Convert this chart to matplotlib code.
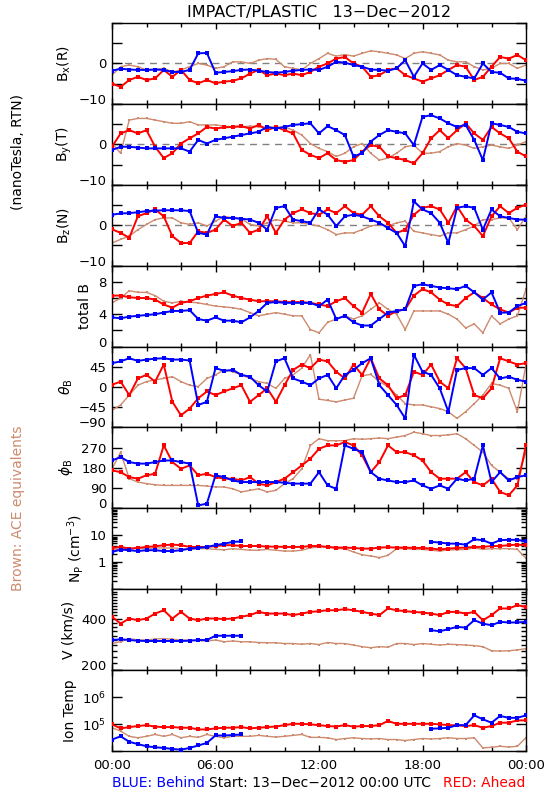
import numpy as np
import matplotlib
matplotlib.use("Agg")
import matplotlib.pyplot as plt
from matplotlib.ticker import FixedLocator, NullLocator, NullFormatter

nan = np.nan

# --- time grid: half-hourly samples over 13-Dec-2012 (hours) ---
hours = np.arange(49) * 0.5

# --- B components (nT, RTN) ---
bx_blue = [-1.8, -1.3, -1.5, -1.6, -1.6, -1.5, -1.6, -2.1, -2.1, -1.6, 2.5, 2.6, -2.3, -2.1, -1.9, -1.6, -1.5,
           -1.8, -2.1, -2.3, -2.1, -1.8, -1.6, -1.5, -1.6, -0.8, 0.4, 0.2, -0.4, -0.8, -1.5, -1.6, -1.8, -1.2,
           0.8, -3.3, 0.0, -1.6, -0.4, -1.6, -2.9, -3.3, -3.7, 0.0, -2.1, -2.3, -3.7, -3.8, -4.3]
bx_red = [-5.0, -5.8, -4.1, -3.3, -4.1, -3.7, -1.6, -3.3, -1.6, -4.1, -4.9, -4.1, -4.9, -4.5, -4.3, -3.7, -2.5,
          -1.6, -2.9, -2.5, -2.9, -2.5, -2.9, -2.1, -0.8, 0.0, 1.2, 1.6, 0.0, -0.8, -3.3, -2.9, -1.6, -1.2,
          -2.9, -3.7, -4.5, -3.7, -2.9, -1.6, -0.4, -0.8, -4.1, -3.3, -0.8, 1.6, 1.2, 2.1, 0.8]
bx_brown = [-2.9, -0.8, -0.4, -0.8, -1.6, -1.5, -1.2, -2.1, -1.6, -0.8, 0.0, -0.4, -1.2, -0.8, 0.4, 0.4, 0.0,
            0.8, 1.2, 1.0, -0.8, -1.2, -1.6, 0.0, 1.2, 2.5, 1.8, 2.2, 1.8, 2.5, 3.1, 2.9, 2.5, 2.1, 1.2, 2.5,
            2.9, 2.5, 2.1, 0.8, 0.4, 0.4, -0.8, -1.6, -1.2, 0.0, 0.0, -1.2, -0.4]

by_blue = [-1.4, -0.6, -0.6, -0.8, -1.0, -1.0, -1.0, -1.0, -1.0, -1.8, 1.1, 0.2, 1.1, 1.5, 1.9, 2.3, 2.7, 3.1,
           4.3, 3.9, 4.3, 4.8, 5.0, 5.2, 2.7, 4.5, 3.5, 2.3, -3.0, -2.2, 0.7, 2.3, 3.5, 3.1, 2.7, -0.2, 6.8, 7.2,
           6.4, 5.2, 4.3, 4.8, 1.1, -3.9, 5.2, 4.8, 4.3, 3.1, 2.7]
by_red = [-0.6, 2.7, 3.5, 2.7, 3.5, -0.6, -3.4, -2.2, 0.2, 1.5, 2.7, 4.3, 3.9, 4.2, 4.3, 4.5, 3.9, 4.8, 3.5,
          4.3, 3.5, 2.7, -1.4, -2.6, -3.4, -2.2, -3.9, -4.3, -3.9, -1.8, -0.2, -0.6, -3.0, -3.4, -3.9, -4.7,
          -2.2, 1.5, 3.5, 1.5, 3.5, 5.2, 2.7, 1.1, 4.3, 2.7, 1.5, -1.8, -3.0]
by_brown = [0.2, -2.2, 6.0, 6.4, 6.4, 6.0, 5.6, 5.2, 5.2, 5.6, 4.8, 4.8, 4.8, 4.5, 4.3, 4.3, 4.5, 4.3, 4.3, 4.2,
            4.3, 3.5, 2.3, 0.2, -1.0, -1.8, -3.0, -2.2, -0.6, 0.2, -2.2, -3.9, -3.4, -2.2, -0.6, -0.2, -2.2,
            -2.2, -1.8, -0.6, 0.2, -0.2, -1.0, -0.6, -0.2, -0.6, -1.0, -0.2, 0.7]

bz_blue = [2.6, 2.9, 3.0, 3.2, 3.5, 3.6, 3.7, 3.7, 3.7, 3.5, -1.9, -2.3, 2.2, 1.8, 1.8, 1.6, 1.4, 0.6, -1.1, 4.3,
           4.7, 1.4, 1.0, 0.6, 3.9, 2.6, -0.2, 2.2, 2.6, 2.2, 1.4, 0.6, -0.7, -1.9, -5.2, 5.9, 3.9, 3.0, 0.6,
           -4.4, 4.3, 4.7, 4.3, -1.1, 3.9, 2.2, 1.8, 1.4, 1.4]
bz_red = [-1.0, -1.9, -3.1, 2.2, 3.0, 3.9, 2.2, -2.7, -4.4, -4.4, -1.5, -1.9, -1.1, 1.4, -0.2, 0.6, -1.9, -1.1,
          2.2, -1.9, 1.4, 3.0, 3.9, 3.0, 2.6, 3.9, 3.0, 4.7, 3.0, 2.6, 4.7, 2.2, 0.6, -1.9, -1.1, 2.6, 4.3, 4.7,
          3.9, 0.6, 4.7, 1.4, -0.2, -2.7, 2.2, 4.7, 3.0, 4.3, 5.1]
bz_brown = [-4.4, -3.5, -2.7, -1.1, 0.2, 1.4, 1.8, 1.8, 0.6, 0.2, 0.6, -0.2, 1.0, 2.2, 1.8, 1.6, 0.2, -0.2, 0.6,
            1.4, 1.0, 0.6, 0.6, 0.2, -0.2, -1.1, -2.3, -1.9, -1.9, -1.1, -0.2, 0.2, -0.2, 0.6, 1.0, -1.5, -1.9,
            -2.3, -2.7, -1.9, -1.9, -1.1, -0.2, 1.4, 1.4, 1.8, 1.8, -1.1, 2.2]

btot_blue = [3.6, 3.5, 3.7, 3.8, 3.9, 4.0, 4.2, 4.4, 4.4, 4.5, 3.4, 3.2, 3.6, 3.2, 3.2, 3.0, 3.6, 4.4, 5.4, 5.5,
             5.4, 5.4, 5.4, 5.4, 5.0, 5.8, 3.4, 3.8, 3.0, 2.6, 2.6, 3.4, 4.2, 4.4, 4.6, 7.5, 7.7, 7.5, 7.3, 7.2,
             7.1, 7.5, 6.7, 5.8, 6.7, 4.2, 4.2, 5.0, 5.4]
btot_red = [6.3, 6.3, 6.1, 6.0, 6.0, 5.8, 5.2, 4.8, 5.4, 5.6, 6.0, 6.3, 6.5, 6.7, 6.3, 6.0, 5.8, 5.6, 5.6, 5.6,
            5.5, 5.5, 5.5, 5.4, 5.2, 5.0, 5.6, 6.0, 5.0, 4.2, 6.5, 4.6, 3.8, 4.4, 4.6, 6.3, 7.1, 6.7, 5.8, 5.2,
            5.0, 6.0, 6.7, 6.0, 5.2, 4.6, 4.2, 4.8, 4.8]
btot_brown = [5.4, 6.0, 6.9, 6.7, 6.7, 6.3, 5.6, 5.4, 5.6, 5.5, 5.4, 5.2, 5.0, 4.9, 4.8, 4.6, 4.2, 3.8, 4.0, 4.2,
              4.0, 3.8, 3.8, 2.1, 1.7, 3.0, 3.4, 3.8, 3.4, 3.8, 4.6, 5.4, 4.6, 4.0, 2.1, 4.4, 4.4, 4.4, 4.4, 4.0,
              3.4, 2.3, 2.8, 1.7, 3.8, 2.8, 3.4, 3.8, 7.1]

# --- field angles (deg) ---
theta_blue = [53, 57, 64, 58, 61, 63, 64, 61, 61, 59, -40, -33, 42, 36, 38, 27, 23, 4, -10, 57, 64, 19, 12, 4,
              19, 27, -3, 27, 38, 53, 64, 4, -18, -40, -70, 72, 34, 27, -3, -55, 38, 42, 42, 27, 42, 19, 23, 16, 12]
theta_red = [5, 12, -18, 19, 27, 12, 50, -33, -63, -48, -25, -10, -18, -10, -3, 4, -33, -18, -3, -33, 4, 38, 50,
             42, 61, 57, 34, 19, 50, 27, 64, 19, 4, -25, -18, 34, 27, 50, 12, -3, 64, 42, -18, -25, -3, 64, 57, 50, 53]
theta_brown = [-52, -40, -18, 4, 12, 16, 19, 23, 12, 4, 1, 19, 27, 38, 34, 27, 19, 12, 8, -3, 19, 27, 42, 72,
               -27, -30, -33, -29, -25, 25, 28, 12, 1, -18, -37, -40, -40, -44, -48, -55, -70, -55, -37, -18, 8,
               4, -3, -55, 50]

phi_blue = [213, 228, 206, 199, 199, 206, 213, 213, 206, 199, 13, 21, 147, 139, 124, 117, 117, 117, 117, 117,
            114, 110, 110, 110, 161, 102, 87, 280, 265, 250, 161, 132, 124, 117, 117, 124, 102, 87, 102, 87, 132,
            124, 132, 280, 117, 161, 124, 139, 147]
phi_red = [169, 161, 139, 132, 147, 154, 280, 206, 176, 191, 147, 154, 139, 132, 132, 124, 139, 110, 102, 117,
           132, 161, 191, 221, 265, 280, 280, 295, 280, 236, 161, 206, 280, 250, 250, 236, 213, 161, 132, 132,
           132, 161, 117, 102, 132, 73, 58, 102, 280]
phi_brown = [176, 250, 132, 117, 110, 105, 102, 102, 102, 102, 102, 99, 95, 95, 87, 73, 80, 87, 73, 80, 110, 132,
             176, 280, 310, 301, 301, 301, 310, 307, 310, 313, 310, 317, 324, 339, 332, 324, 324, 327, 332, 310,
             280, 250, 191, 161, 132, 132, 250]

# --- plasma ---
gap = [nan] * 21
np_blue = [2.4, 2.95, 2.8, 2.6, 2.8, 2.8, 2.6, 2.6, 2.8, 3.2, 3.4, 3.7, 4.3, 4.9, 5.7, 5.9] + gap + \
          [5.7, 5.4, 4.9, 4.9, 4.5, 7.1, 6.6, 4.9, 6.6, 6.8, 6.8, 5.9]
np_red = [3.4, 3.7, 3.2, 3.4, 3.7, 3.9, 4.3, 4.5, 4.3, 3.7, 3.7, 3.7, 4.0, 4.3, 4.3, 4.0, 4.0, 4.0, 3.8, 3.8,
          3.7, 3.7, 3.7, 4.0, 4.0, 3.7, 3.5, 3.5, 3.4, 3.2, 3.2, 3.5, 3.6, 3.5, 3.5, 3.4, 3.4, 3.2, 3.0, 3.2,
          3.4, 3.5, 3.7, 3.7, 4.0, 4.0, 4.3, 4.5, 4.3]
np_brown = [2.8, 3.2, 3.2, 3.4, 3.2, 3.4, 3.4, 3.4, 3.2, 3.0, 3.2, 3.2, 3.0, 2.9, 3.2, 3.0, 2.8, 2.8, 3.0, 2.8,
            2.6, 2.6, 2.8, 3.4, 3.7, 3.7, 3.2, 3.2, 2.4, 1.9, 1.7, 1.5, 1.8, 3.2, 3.2, 3.0, 3.0, 2.8, 2.6, 2.9,
            2.9, 3.0, 3.4, 3.0, 3.2, 3.2, 3.2, 3.0, 1.4]

v_blue = [301, 304, 301, 298, 297, 297, 297, 297, 297, 298, 301, 301, 319, 319, 319, 319] + gap + \
         [344, 339, 349, 360, 356, 394, 376, 368, 385, 382, 382, 385]
v_red = [413, 376, 403, 394, 403, 431, 451, 403, 441, 403, 394, 403, 403, 400, 403, 413, 422, 441, 431, 431,
         431, 422, 431, 441, 445, 451, 451, 458, 451, 441, 431, 422, 462, 451, 445, 441, 437, 431, 422, 441,
         441, 431, 441, 394, 422, 462, 462, 483, 472]
v_brown = [287, 294, 307, 301, 301, 305, 307, 304, 301, 301, 298, 297, 301, 294, 297, 294, 294, 291, 290, 290,
           287, 287, 284, 287, 283, 291, 287, 287, 281, 275, 271, 275, 273, 287, 287, 283, 287, 284, 281, 284,
           283, 281, 279, 275, 260, 259, 260, 263, 268]

t_blue = [2.66e4, 3.5e4, 2.2e4, 1.8e4, 1.5e4, 1.37e4, 1.3e4, 1.19e4, 1.12e4, 1.3e4, 1.6e4, 2.0e4, 3.76e4,
          3.76e4, 3.9e4, 4.1e4] + gap + \
         [6.7e4, 6.9e4, 7.3e4, 9.1e4, 9.1e4, 2.1e5, 1.5e5, 1.12e5, 2.0e5, 1.7e5, 1.7e5, 2.1e5]
t_red = [9.7e4, 6.9e4, 7.7e4, 8.4e4, 9.1e4, 8.0e4, 7.7e4, 7.7e4, 7.3e4, 7.3e4, 6.3e4, 6.3e4, 6.9e4, 7.3e4,
         7.3e4, 7.7e4, 6.9e4, 7.3e4, 7.7e4, 8.1e4, 9.1e4, 1.02e5, 1.02e5, 9.7e4, 9.1e4, 8.4e4, 8.1e4, 9.1e4,
         8.0e4, 8.4e4, 8.4e4, 9.1e4, 1.3e5, 1.02e5, 1.02e5, 1.02e5, 1.02e5, 1.02e5, 9.7e4, 9.1e4, 9.0e4,
         8.4e4, 9.1e4, 7.3e4, 8.4e4, 1.12e5, 1.12e5, 1.37e5, 1.37e5]
t_brown = [7.3e4, 5.5e4, 3.5e4, 3.1e4, 3.5e4, 4.1e4, 3.5e4, 4.1e4, 3.1e4, 3.5e4, 3.2e4, 4.1e4, 3.5e4, 3.1e4,
           3.5e4, 3.5e4, 3.5e4, 3.8e4, 3.5e4, 3.3e4, 3.5e4, 3.8e4, 4.1e4, 3.2e4, 3.2e4, 3.1e4, 2.66e4, 2.9e4,
           3.1e4, 2.9e4, 2.8e4, 2.9e4, 2.66e4, 2.66e4, 2.45e4, 2.66e4, 2.9e4, 2.8e4, 2.9e4, 3.1e4, 2.9e4,
           2.9e4, 3.1e4, 1.3e4, 1.37e4, 1.5e4, 1.4e4, 1.5e4, 3.1e4]

xtick_labels = ["00:00", "06:00", "12:00", "18:00", "00:00"]

RED = "#FF0000"
BLUE = "#0000FF"
BROWN = "#CD8A6E"

# (label, label x centre in px, brown, red, blue, ylim, log, yticks, ytick labels, zero line)
panels = [
    (r"B$_\mathregular{x}$(R)", 64, bx_brown, bx_red, bx_blue, (-10, 10), False,
     [-10, -5, 0, 5, 10], ["\u221210", "", "0", "", ""], True),
    (r"B$_\mathregular{y}$(T)", 64, by_brown, by_red, by_blue, (-10, 10), False,
     [-10, -5, 0, 5, 10], ["\u221210", "", "0", "", ""], True),
    (r"B$_\mathregular{z}$(N)", 64, bz_brown, bz_red, bz_blue, (-10, 10), False,
     [-10, -5, 0, 5, 10], ["\u221210", "", "0", "", ""], True),
    ("total B", 85, btot_brown, btot_red, btot_blue, (0, 10), False,
     [0, 2, 4, 6, 8, 10], ["0", "", "4", "", "8", ""], False),
    (r"$\theta_\mathregular{B}$", 66, theta_brown, theta_red, theta_blue, (-90, 90), False,
     [-90, -45, 0, 45, 90], ["\u221290", "\u221245", "0", "45", ""], False),
    (r"$\phi_\mathregular{B}$", 66, phi_brown, phi_red, phi_blue, (0, 360), False,
     [0, 90, 180, 270, 360], ["0", "90", "180", "270", ""], False),
    (r"N$_\mathregular{P}$ (cm$^{-3}$)", 75, np_brown, np_red, np_blue, (0.1, 100), True,
     [0.1, 1, 10, 100], ["", "1", "10", ""], False),
    ("V (km/s)", 68, v_brown, v_red, v_blue, (200, 600), True,
     [200, 400], ["200", "400"], False),
    ("Ion Temp", 70, t_brown, t_red, t_blue, (1e4, 1e7), True,
     [1e4, 1e5, 1e6, 1e7], ["", r"10$^5$", r"10$^6$", ""], False),
]

fig, axes = plt.subplots(9, 1, figsize=(5.5, 8), dpi=100, sharex=True,
                         gridspec_kw=dict(hspace=0))
fig.subplots_adjust(left=112 / 550, right=526 / 550, top=1 - 23 / 800, bottom=1 - 751 / 800)

for i, (ax, (lab, lx, brown, red, blue, ylim, logy, yt, ytl, zero)) in enumerate(zip(axes, panels)):
    if logy:
        ax.set_yscale("log")
    if zero:
        ax.axhline(0, color="#808080", lw=1.0, ls=(0, (5, 4)), zorder=1)
    ax.plot(hours, brown, color=BROWN, lw=1.0, marker="s", ms=1.8, mew=0, zorder=2)
    ax.plot(hours, red, color=RED, lw=1.4, marker="s", ms=2.2, mew=0, zorder=3)
    ax.plot(hours, blue, color=BLUE, lw=1.4, marker="s", ms=2.2, mew=0, zorder=4)
    ax.set_ylim(*ylim)
    ax.yaxis.set_major_locator(FixedLocator(yt))
    ax.set_yticklabels(ytl)
    if i == 6:
        ax.yaxis.set_minor_locator(FixedLocator(
            [m * d for d in (0.1, 1, 10) for m in range(2, 10)]))
    elif i == 7:
        ax.yaxis.set_minor_locator(FixedLocator(np.arange(220, 600, 20)))
    else:
        ax.yaxis.set_minor_locator(NullLocator())
    ax.yaxis.set_minor_formatter(NullFormatter())
    # lowest label sits just above the bottom of the panel
    ax.get_yticklabels()[0].set_va("baseline")
    ax.set_ylabel(lab, fontsize=10, va="center")
    ax.yaxis.set_label_coords((lx - 112) / 414, 0.5)
    ax.tick_params(axis="y", which="major", direction="in", length=7, width=1,
                   left=True, right=True, labelsize=9.5, pad=4)
    ax.tick_params(axis="y", which="minor", direction="in", length=3.5, width=1,
                   left=True, right=True)
    ax.tick_params(axis="x", which="major", direction="in", length=4.5, width=1,
                   top=True, bottom=True, labelsize=9.5, pad=6)
    ax.tick_params(axis="x", which="minor", direction="in", length=3, width=1,
                   top=True, bottom=True)
    for s in ax.spines.values():
        s.set_linewidth(1.0)

axes[-1].set_xlim(0, 24)
axes[-1].xaxis.set_major_locator(FixedLocator([0, 6, 12, 18, 24]))
axes[-1].xaxis.set_minor_locator(FixedLocator(np.arange(0, 25, 2)))
axes[-1].set_xticklabels(xtick_labels)

fig.text(319 / 550, 1 - 12 / 800, "IMPACT/PLASTIC   13\u2212Dec\u22122012", ha="center", va="center",
         fontsize=11.5)
fig.text(18 / 550, 1 - 152 / 800, "(nanoTesla, RTN)", rotation=90, ha="center", va="center", fontsize=10)
fig.text(18 / 550, 1 - 508 / 800, "Brown: ACE equivalents", rotation=90, ha="center", va="center",
         fontsize=10, color=BROWN)
fig.text(112 / 550, 1 - 783 / 800, "BLUE: Behind", ha="left", va="center", fontsize=10, color=BLUE)
fig.text(320 / 550, 1 - 783 / 800, "Start: 13\u2212Dec\u22122012 00:00 UTC", ha="center", va="center",
         fontsize=10)
fig.text(525 / 550, 1 - 783 / 800, "RED: Ahead", ha="right", va="center", fontsize=10, color=RED)

fig.savefig("out.png", dpi=100)
